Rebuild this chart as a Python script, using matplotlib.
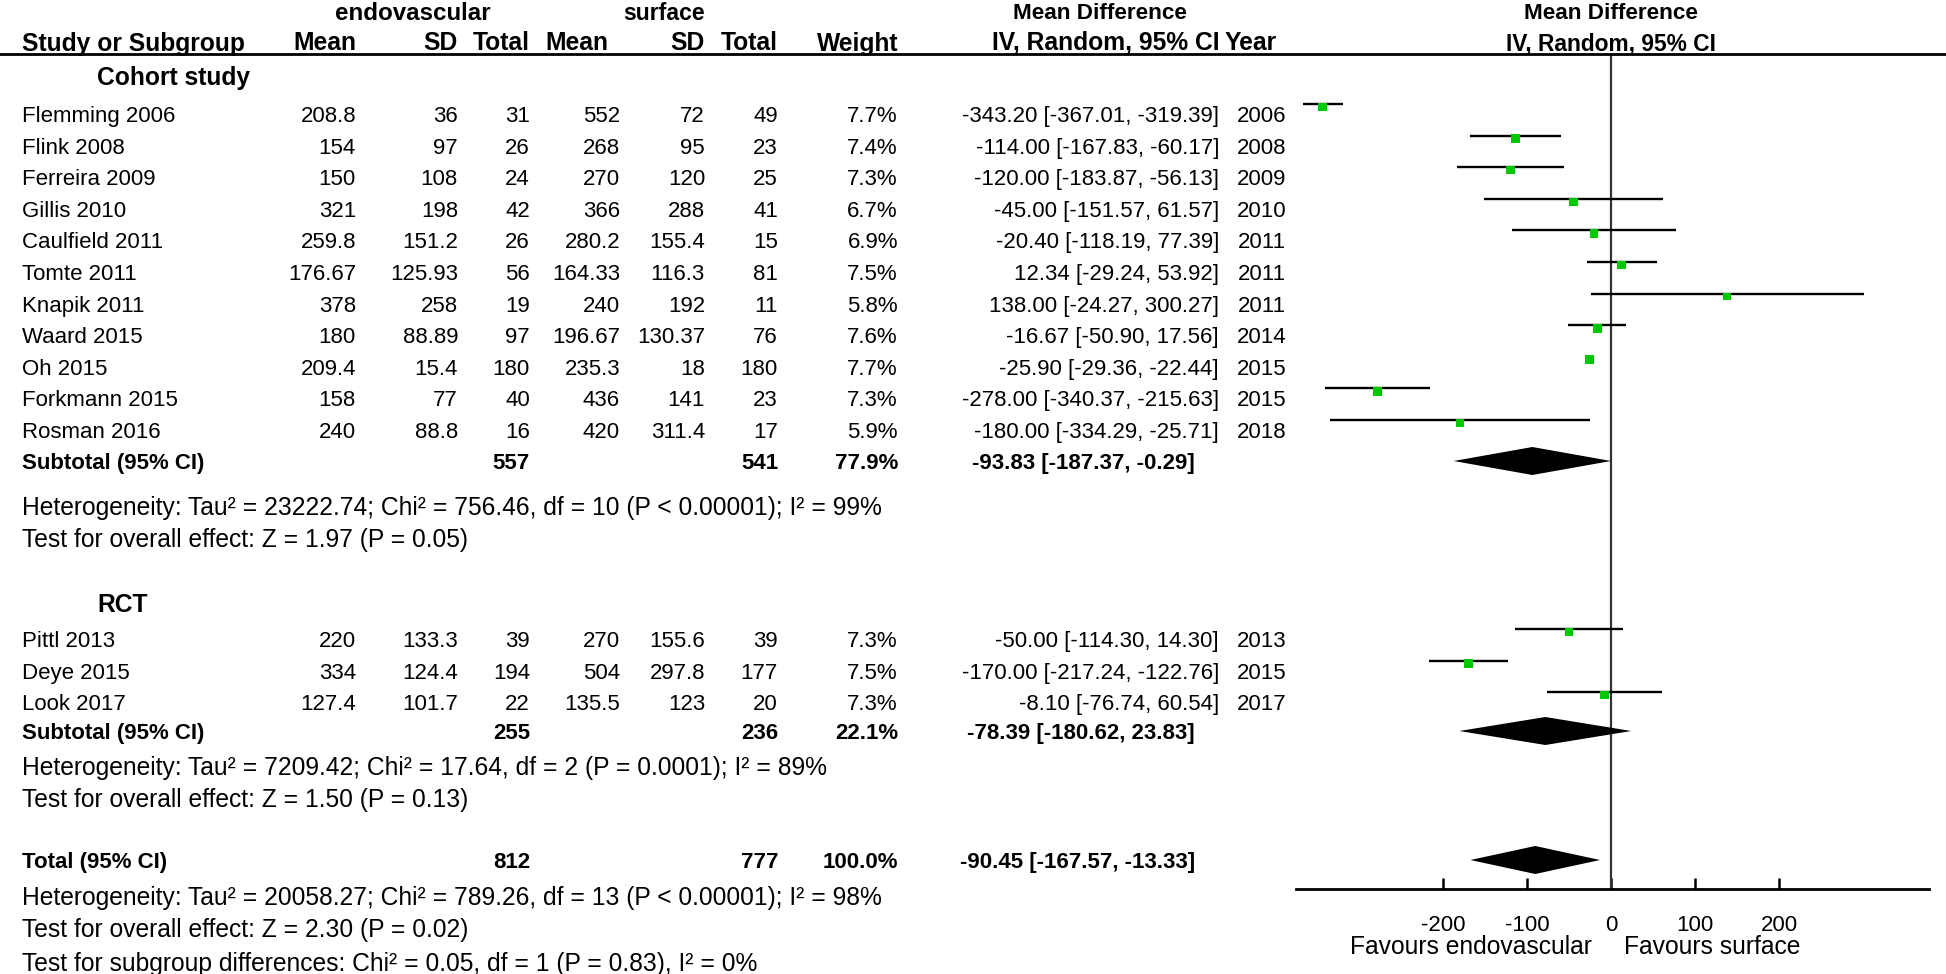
import matplotlib.pyplot as plt
from matplotlib.lines import Line2D

plt.rcParams['font.family'] = ['Liberation Sans', 'DejaVu Sans']

# dane: kohorty
cohort_names = ["Flemming 2006", "Flink 2008", "Ferreira 2009", "Gillis 2010", "Caulfield 2011",
                "Tomte 2011", "Knapik 2011", "Waard 2015", "Oh 2015", "Forkmann 2015", "Rosman 2016"]
cohort_endo_mean = [208.8, 154, 150, 321, 259.8, 176.67, 378, 180, 209.4, 158, 240]
cohort_endo_sd = [36, 97, 108, 198, 151.2, 125.93, 258, 88.89, 15.4, 77, 88.8]
cohort_endo_n = [31, 26, 24, 42, 26, 56, 19, 97, 180, 40, 16]
cohort_surf_mean = [552, 268, 270, 366, 280.2, 164.33, 240, 196.67, 235.3, 436, 420]
cohort_surf_sd = [72, 95, 120, 288, 155.4, 116.3, 192, 130.37, 18, 141, 311.4]
cohort_surf_n = [49, 23, 25, 41, 15, 81, 11, 76, 180, 23, 17]
cohort_weight = [7.7, 7.4, 7.3, 6.7, 6.9, 7.5, 5.8, 7.6, 7.7, 7.3, 5.9]
cohort_md = [-343.20, -114.00, -120.00, -45.00, -20.40, 12.34, 138.00, -16.67, -25.90, -278.00, -180.00]
cohort_lo = [-367.01, -167.83, -183.87, -151.57, -118.19, -29.24, -24.27, -50.90, -29.36, -340.37, -334.29]
cohort_hi = [-319.39, -60.17, -56.13, 61.57, 77.39, 53.92, 300.27, 17.56, -22.44, -215.63, -25.71]
cohort_year = [2006, 2008, 2009, 2010, 2011, 2011, 2011, 2014, 2015, 2015, 2018]

# dane: RCT
rct_names = ["Pittl 2013", "Deye 2015", "Look 2017"]
rct_endo_mean = [220, 334, 127.4]
rct_endo_sd = [133.3, 124.4, 101.7]
rct_endo_n = [39, 194, 22]
rct_surf_mean = [270, 504, 135.5]
rct_surf_sd = [155.6, 297.8, 123]
rct_surf_n = [39, 177, 20]
rct_weight = [7.3, 7.5, 7.3]
rct_md = [-50.00, -170.00, -8.10]
rct_lo = [-114.30, -217.24, -76.74]
rct_hi = [14.30, -122.76, 60.54]
rct_year = [2013, 2015, 2017]

# podsumowania: [kohorty, RCT, razem]
sum_endo_n = [557, 255, 812]
sum_surf_n = [541, 236, 777]
sum_weight = ["77.9%", "22.1%", "100.0%"]
sum_md = [-93.83, -78.39, -90.45]
sum_lo = [-187.37, -180.62, -167.57]
sum_hi = [-0.29, 23.83, -13.33]

het_lines = [
    ["Heterogeneity: Tau² = 23222.74; Chi² = 756.46, df = 10 (P < 0.00001); I² = 99%",
     "Test for overall effect: Z = 1.97 (P = 0.05)"],
    ["Heterogeneity: Tau² = 7209.42; Chi² = 17.64, df = 2 (P = 0.0001); I² = 89%",
     "Test for overall effect: Z = 1.50 (P = 0.13)"],
    ["Heterogeneity: Tau² = 20058.27; Chi² = 789.26, df = 13 (P < 0.00001); I² = 98%",
     "Test for overall effect: Z = 2.30 (P = 0.02)",
     "Test for subgroup differences: Chi² = 0.05, df = 1 (P = 0.83), I² = 0%"],
]

ticks = [-200, -100, 0, 100, 200]

W, H = 1946, 974
FS = 16       # wiersze badan
FS_BIG = 17.7  # naglowki, heterogenicznosc, podpisy osi
fig = plt.figure(figsize=(W / 100, H / 100), dpi=100)


def put(x, y, s, ha='left', bold=False, fs=FS):
    fig.text(x / W, 1 - (y + 2.5) / H, s, ha=ha, va='center', fontsize=fs,
             fontweight='bold' if bold else 'normal')


# kolumny (prawa krawedz w pikselach)
col_mean1, col_sd1, col_n1 = 356, 458, 530
col_mean2, col_sd2, col_n2 = 620, 705, 778
col_w, col_ci, col_year = 898, 1219, 1286
col_ci_bold = 1195

# naglowki
put(413, 11, "endovascular", 'center', True, 17.4)
put(664, 11, "surface", 'center', True, 16.6)
put(1100, 11, "Mean Difference", 'center', True, 16.2)
put(1611, 11, "Mean Difference", 'center', True, 16.2)
put(22, 41, "Study or Subgroup", bold=True, fs=FS_BIG)
put(col_mean1, 41, "Mean", 'right', True, FS_BIG)
put(col_sd1, 41, "SD", 'right', True, FS_BIG)
put(col_n1, 41, "Total", 'right', True, FS_BIG)
put(608, 41, "Mean", 'right', True, FS_BIG)
put(col_sd2, 41, "SD", 'right', True, FS_BIG)
put(col_n2, 41, "Total", 'right', True, FS_BIG)
put(col_w, 41, "Weight", 'right', True, FS_BIG)
put(1219, 41, "IV, Random, 95% CI", 'right', True, FS_BIG)
put(1225, 41, "Year", bold=True, fs=FS_BIG)
put(1611, 41, "IV, Random, 95% CI", 'center', True, 16.4)
fig.add_artist(Line2D([0, 1], [1 - 54 / H] * 2, color='black', lw=2))

# os lasu
ax = fig.add_axes([1296 / W, 1 - 889 / H, (1929 - 1296) / W, (889 - 54) / H])
ax.set_xlim(-375, 378)
ax.set_ylim(889, 54)
for s in ['left', 'right', 'top']:
    ax.spines[s].set_visible(False)
ax.spines['bottom'].set_linewidth(2)
ax.set_yticks([])
ax.set_xticks(ticks)
ax.set_xticklabels([str(t) for t in ticks])
ax.tick_params(axis='x', direction='in', length=8, width=1.8, pad=19, labelsize=FS)
ax.axvline(0, color='#333333', lw=1.6)
ax.patch.set_alpha(0)

green = "#00c800"


def study_rows(y0, names, m1, s1, n1, m2, s2, n2, w, md, lo, hi, yr):
    ys = []
    for i in range(len(names)):
        y = y0 + 31.6 * i
        ys.append(y)
        put(22, y, names[i])
        put(col_mean1, y, f"{m1[i]:g}", 'right')
        put(col_sd1, y, f"{s1[i]:g}", 'right')
        put(col_n1, y, str(n1[i]), 'right')
        put(col_mean2, y, f"{m2[i]:g}", 'right')
        put(col_sd2, y, f"{s2[i]:g}", 'right')
        put(col_n2, y, str(n2[i]), 'right')
        put(col_w, y, f"{w[i]:.1f}%", 'right')
        put(col_ci, y, f"{md[i]:.2f} [{lo[i]:.2f}, {hi[i]:.2f}]", 'right')
        put(col_year, y, str(yr[i]), 'right')
    ys_line = [y - 10 for y in ys]
    ax.hlines(ys_line, lo, hi, color='black', lw=1.7, zorder=2)
    ax.scatter(md, [y + 3 for y in ys_line], marker='s', color=green,
               s=[40 * wi / 7.7 for wi in w], linewidths=0, zorder=3)


def subtotal(y, k, label):
    put(22, y, label, bold=True)
    put(col_n1, y, str(sum_endo_n[k]), 'right', True)
    put(col_n2, y, str(sum_surf_n[k]), 'right', True)
    put(col_w, y, sum_weight[k], 'right', True)
    put(col_ci_bold, y, f"{sum_md[k]:.2f} [{sum_lo[k]:.2f}, {sum_hi[k]:.2f}]", 'right', True)
    ax.fill([sum_lo[k], sum_md[k], sum_hi[k], sum_md[k]], [y, y - 14, y, y + 14],
            color='black', lw=0, zorder=3)


put(97, 75, "Cohort study", bold=True, fs=FS_BIG)
study_rows(114, cohort_names, cohort_endo_mean, cohort_endo_sd, cohort_endo_n,
           cohort_surf_mean, cohort_surf_sd, cohort_surf_n, cohort_weight,
           cohort_md, cohort_lo, cohort_hi, cohort_year)
subtotal(461, 0, "Subtotal (95% CI)")
put(22, 505, het_lines[0][0], fs=FS_BIG)
put(22, 538, het_lines[0][1], fs=FS_BIG)

put(97, 602, "RCT", bold=True, fs=FS_BIG)
study_rows(639, rct_names, rct_endo_mean, rct_endo_sd, rct_endo_n,
           rct_surf_mean, rct_surf_sd, rct_surf_n, rct_weight,
           rct_md, rct_lo, rct_hi, rct_year)
subtotal(731, 1, "Subtotal (95% CI)")
put(22, 765, het_lines[1][0], fs=FS_BIG)
put(22, 798, het_lines[1][1], fs=FS_BIG)

subtotal(860, 2, "Total (95% CI)")
put(22, 895, het_lines[2][0], fs=FS_BIG)
put(22, 927, het_lines[2][1], fs=FS_BIG)
put(22, 961, het_lines[2][2], fs=FS_BIG)

ax.annotate("Favours endovascular", xy=(0, 0), xycoords=('data', 'axes fraction'),
            xytext=(-14, -42), textcoords='offset points', ha='right', va='center', fontsize=FS_BIG)
ax.annotate("Favours surface", xy=(0, 0), xycoords=('data', 'axes fraction'),
            xytext=(9, -42), textcoords='offset points', ha='left', va='center', fontsize=FS_BIG)

fig.savefig("out.png", dpi=100)
